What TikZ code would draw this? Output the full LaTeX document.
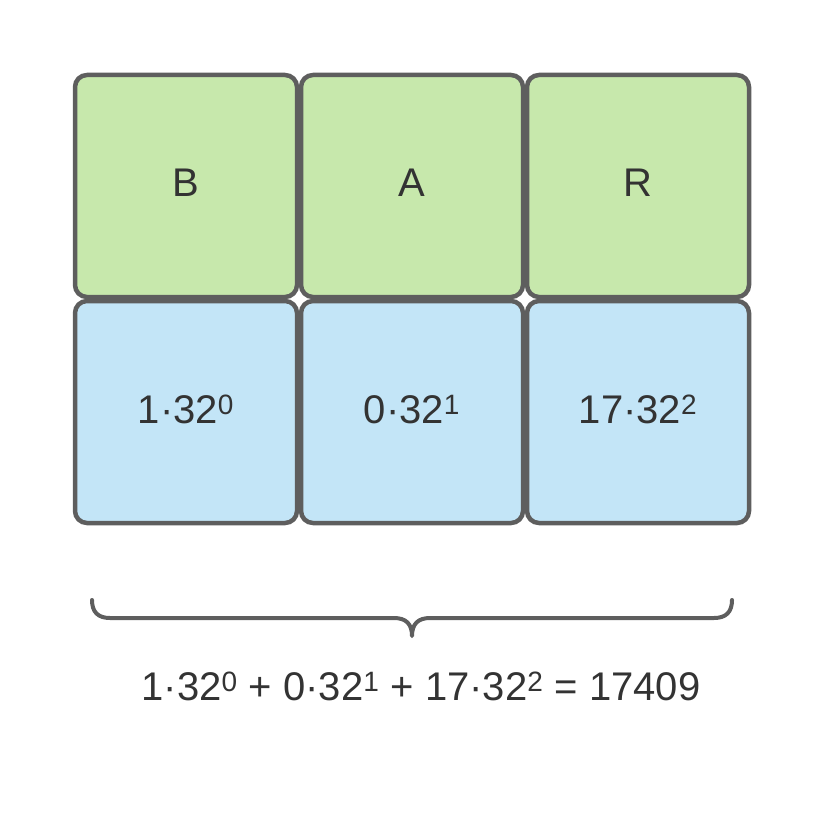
\documentclass[tikz,border=0pt]{standalone}
\usepackage{fontspec}
\setmainfont{Liberation Sans}
\definecolor{edge}{HTML}{5E5E5E}
\definecolor{txt}{HTML}{333333}
\definecolor{gfill}{HTML}{C7E8AC}
\definecolor{bfill}{HTML}{C3E5F7}
\newcommand{\lift}[1]{\raisebox{6pt}{#1}}
\tikzset{
  cell/.style={draw=edge, line width=4.5pt, rounded corners=12pt, minimum width=222pt, minimum height=222pt, inner sep=0pt, text=txt, font=\fontsize{40}{42}\selectfont},
  gcell/.style={cell, fill=gfill},
  bcell/.style={cell, fill=bfill},
  bracestyle/.style={draw=edge, line width=4pt, line cap=round, line join=round}
}
\begin{document}
\begin{tikzpicture}[x=1pt,y=-1pt]
\useasboundingbox (0,0) rectangle (825,829);
\node[gcell] (b1) at (186,186) {\lift{B}};
\node[gcell] (b2) at (412,186) {\lift{A}};
\node[gcell] (b3) at (638,186) {\lift{R}};
\node[bcell] (n1) at (186,412) {\lift{1·32\textsuperscript{0}}};
\node[bcell] (n2) at (412,412) {\lift{0·32\textsuperscript{1}}};
\node[bcell] (n3) at (638,412) {\lift{17·32\textsuperscript{2}}};
\coordinate (bl) at (92,600);
\coordinate (br) at (732,600);
\coordinate (tip) at (412,636);
\draw[bracestyle] (bl) .. controls (92,612) and (98,618) .. (110,618) -- (394,618)
  .. controls (406,618) and (412,624) .. (tip)
  .. controls (412,624) and (418,618) .. (430,618) -- (714,618)
  .. controls (726,618) and (732,612) .. (br);
\node[text=txt, font=\fontsize{40}{42}\selectfont, inner sep=0pt] (eq) at (421,686) {1·32\textsuperscript{0} + 0·32\textsuperscript{1} + 17·32\textsuperscript{2} = 17409};
\end{tikzpicture}
\end{document}
